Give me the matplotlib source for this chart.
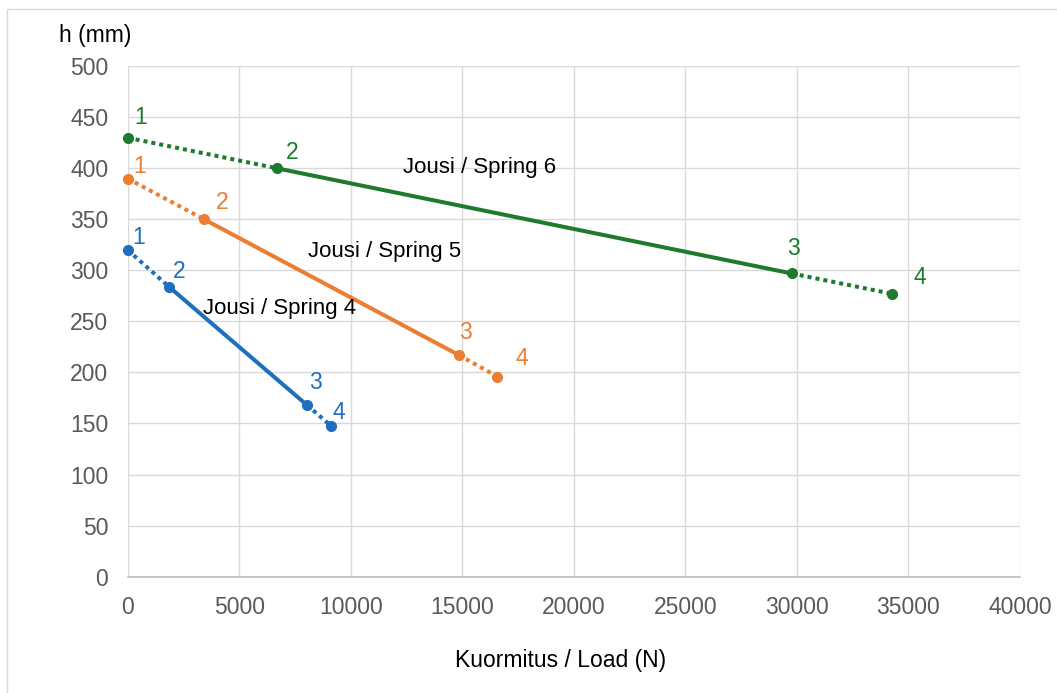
import matplotlib.pyplot as plt
from matplotlib.patches import Rectangle

plt.rcParams['font.family'] = ['Liberation Sans', 'DejaVu Sans']

# kuormitus (N) ja korkeus (mm) jousille 4, 5 ja 6
load_4 = [0, 1850, 8040, 9100]
h_4 = [320, 284, 168, 148]
load_5 = [0, 3430, 14850, 16570]
h_5 = [390, 350, 217, 196]
load_6 = [0, 6710, 29770, 34280]
h_6 = [430, 400, 297, 277]
point_labels = ['1', '2', '3', '4']
spring_names = ['Jousi / Spring 4', 'Jousi / Spring 5', 'Jousi / Spring 6']

blue = '#1F6FBF'
orange = '#ED7D31'
green = '#1E7B2E'

fig = plt.figure(figsize=(10.57, 6.93), dpi=100)
ax = fig.add_axes([0.1208, 0.168, 0.8442, 0.7363])

# reunus kuten Excelin kaavioalueessa (oikea ja ala jäävät kuvan ulkopuolelle)
fig.patches.append(Rectangle((0.0066, -0.05), 1.1, 1.037, transform=fig.transFigure,
                             fill=False, edgecolor='#D9D9D9', linewidth=1))

# numeroiden siirrot pikseleinä (x oikealle, y ylös)
series = [
    (load_4, h_4, blue, [(11, 13), (10, 15), (8, 23), (8, 13)]),
    (load_5, h_5, orange, [(12, 12), (18, 17), (7, 23), (24, 18)]),
    (load_6, h_6, green, [(13, 20), (15, 16), (2, 25), (27, 16)]),
]

for xs, ys, col, offs in series:
    ax.plot(xs[0:2], ys[0:2], color=col, lw=2.9, ls=(0, (1, 1)), clip_on=False, zorder=3)
    ax.plot(xs[1:3], ys[1:3], color=col, lw=2.9, clip_on=False, zorder=3)
    ax.plot(xs[2:4], ys[2:4], color=col, lw=2.9, ls=(0, (1, 1)), clip_on=False, zorder=3)
    ax.plot(xs, ys, 'o', color=col, ms=7, clip_on=False, zorder=4)
    for x, y, lab, off in zip(xs, ys, point_labels, offs):
        ax.annotate(lab, (x, y), xytext=(off[0] * 0.72, off[1] * 0.72), textcoords='offset points',
                    color=col, fontsize=16.5, ha='center', va='center')

ax.text(3380, 263, spring_names[0], fontsize=16, va='center', color='black')
ax.text(8080, 319, spring_names[1], fontsize=16, va='center', color='black')
ax.text(12340, 401, spring_names[2], fontsize=16, va='center', color='black')

ax.set_xlim(0, 40000)
ax.set_ylim(0, 500)
ax.set_xticks(range(0, 40001, 5000))
ax.set_yticks(range(0, 501, 50))
ax.grid(True, color='#D9D9D9', linewidth=1)
ax.set_axisbelow(True)
for s in ['top', 'right', 'left']:
    ax.spines[s].set_visible(False)
ax.spines['bottom'].set_color('#BFBFBF')
ax.spines['bottom'].set_linewidth(1.2)
ax.tick_params(length=0, labelsize=16.5, labelcolor='#595959')
ax.tick_params(axis='x', pad=14)
ax.tick_params(axis='y', pad=14)

fig.text(0.09, 0.949, 'h (mm)', fontsize=16.5, va='center', ha='center')
fig.text(0.53, 0.047, 'Kuormitus / Load (N)', fontsize=16.5, va='center', ha='center')

fig.savefig('out.png', dpi=100)
